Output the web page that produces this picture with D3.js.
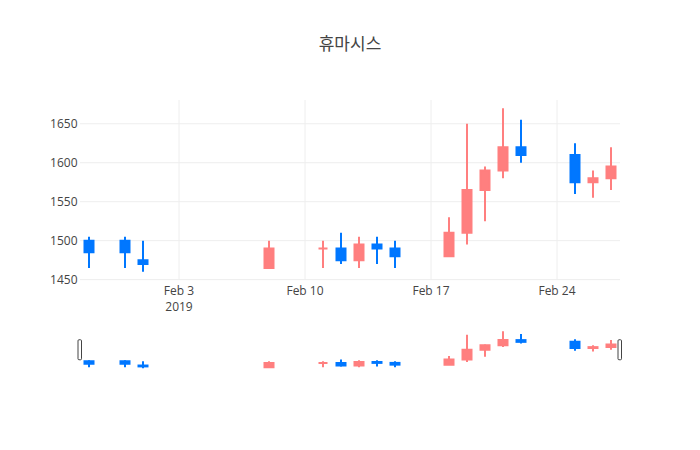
<!DOCTYPE html>
<html>
<head>
<meta charset="utf-8">
<script src="https://cdn.jsdelivr.net/npm/d3@7"></script>
<style>
  body { margin: 0; background: #fff; }
  text { font-family: "Open Sans", "Noto Sans CJK KR", sans-serif; }
</style>
</head>
<body>
<div id="chart"></div>
<script>
var dates = ["2019-01-29", "2019-01-31", "2019-02-01", "2019-02-08", "2019-02-11", "2019-02-12",
             "2019-02-13", "2019-02-14", "2019-02-15", "2019-02-18", "2019-02-19", "2019-02-20",
             "2019-02-21", "2019-02-22", "2019-02-25", "2019-02-26", "2019-02-27"];
var open  = [1500, 1500, 1475, 1465, 1490, 1490, 1475, 1495, 1490, 1480, 1510, 1565, 1590, 1620, 1610, 1575, 1580];
var high  = [1505, 1505, 1500, 1500, 1500, 1510, 1505, 1505, 1500, 1530, 1650, 1595, 1670, 1655, 1625, 1590, 1620];
var low   = [1465, 1465, 1460, 1465, 1465, 1470, 1465, 1470, 1465, 1480, 1495, 1525, 1580, 1600, 1560, 1555, 1565];
var close = [1485, 1485, 1470, 1490, 1490, 1475, 1495, 1490, 1480, 1510, 1565, 1590, 1620, 1610, 1575, 1580, 1595];
var yTicks = [1450, 1500, 1550, 1600, 1650];
var title = "휴마시스";

var upColor = "#ff7f7f";
var downColor = "#0077ff";

var width = 700, height = 450;
var plotL = 80, plotR = 620, plotT = 100, plotB = 280;
var slideT = 329.5, slideB = 370;

var parse = d3.utcParse("%Y-%m-%d");
var rows = dates.map(function(d, i) {
    return {date: parse(d), o: open[i], h: high[i], l: low[i], c: close[i]};
});

// half a day of padding either side, like plotly's autorange
var x = d3.scaleUtc()
    .domain([d3.utcHour.offset(parse(dates[0]), -12), d3.utcHour.offset(parse(dates[dates.length - 1]), 12)])
    .range([plotL, plotR]);
var yMin = d3.min(low), yMax = d3.max(high);
var pad = (yMax - yMin) * 0.05;
var y = d3.scaleLinear().domain([yMin - pad, yMax + pad]).range([plotB, plotT]);
var ys = d3.scaleLinear().domain(y.domain()).range([slideB, slideT]);

var dayPx = x(d3.utcDay.offset(rows[0].date, 1)) - x(rows[0].date);
var bodyW = dayPx * 0.5;

var svg = d3.select("#chart").append("svg")
    .attr("width", width)
    .attr("height", height);

svg.append("text")
    .attr("x", width / 2)
    .attr("y", 50)
    .attr("text-anchor", "middle")
    .attr("font-size", 17)
    .style("fill", "#444")
    .text(title);

//grid
var grid = svg.append("g");
grid.selectAll(".hgrid").data(yTicks).enter().append("line")
    .attr("x1", plotL).attr("x2", plotR)
    .attr("y1", function(d) { return y(d); })
    .attr("y2", function(d) { return y(d); })
    .style("stroke", "#eee").style("stroke-width", 1);
var xTicks = x.ticks(d3.utcWeek);
grid.selectAll(".vgrid").data(xTicks).enter().append("line")
    .attr("x1", function(d) { return x(d); })
    .attr("x2", function(d) { return x(d); })
    .attr("y1", plotT).attr("y2", plotB)
    .style("stroke", "#eee").style("stroke-width", 1);

//axes
var yAxis = d3.axisLeft(y).tickValues(yTicks).tickSize(0).tickPadding(2.5).tickFormat(d3.format("d"));
svg.append("g")
    .attr("transform", "translate(" + plotL + ",0)")
    .call(yAxis)
    .call(function(g) { g.select(".domain").remove(); })
    .selectAll("text")
    .attr("font-size", 12)
    .attr("font-family", null)
    .style("fill", "#444");

var fmt = d3.utcFormat("%b %-d");
var xLab = svg.append("g").selectAll("text").data(xTicks).enter().append("text")
    .attr("x", function(d) { return x(d); })
    .attr("y", 295)
    .attr("text-anchor", "middle")
    .attr("font-size", 12)
    .style("fill", "#444");
xLab.append("tspan").text(function(d) { return fmt(d); });
xLab.filter(function(d, i) { return i === 0; }).append("tspan")
    .attr("x", function(d) { return x(d); })
    .attr("dy", 15.5)
    .text(function(d) { return d3.utcFormat("%Y")(d); });

//candles: body drawn as a path so a flat open==close body still shows
function drawCandles(g, ysc) {
    var c = g.selectAll("g").data(rows).enter().append("g")
        .style("stroke", function(d) { return d.c >= d.o ? upColor : downColor; })
        .style("fill", function(d) { return d.c >= d.o ? upColor : downColor; })
        .style("stroke-width", 2);
    c.append("line")
        .attr("x1", function(d) { return x(d.date); })
        .attr("x2", function(d) { return x(d.date); })
        .attr("y1", function(d) { return ysc(d.h); })
        .attr("y2", function(d) { return ysc(d.l); });
    c.append("path")
        .attr("d", function(d) {
            var x0 = x(d.date) - bodyW / 2, x1 = x(d.date) + bodyW / 2;
            var y0 = ysc(d.o), y1 = ysc(d.c);
            return "M" + x0 + "," + y0 + "H" + x1 + "V" + y1 + "H" + x0 + "Z";
        });
}
drawCandles(svg.append("g"), y);

//range slider
var slider = svg.append("g");
slider.append("rect")
    .attr("x", plotL).attr("y", slideT)
    .attr("width", plotR - plotL).attr("height", slideB - slideT)
    .style("fill", "#fff");
drawCandles(slider.append("g"), ys);
var hMid = (slideT + slideB) / 2;
slider.selectAll(".grab").data(x.range()).enter().append("rect")
    .attr("x", function(d) { return d - 2; })
    .attr("y", hMid - 10)
    .attr("width", 3.5)
    .attr("height", 20)
    .attr("rx", 1)
    .style("fill", "#fff")
    .style("stroke", "#444")
    .style("stroke-width", 1);
</script>
</body>
</html>
